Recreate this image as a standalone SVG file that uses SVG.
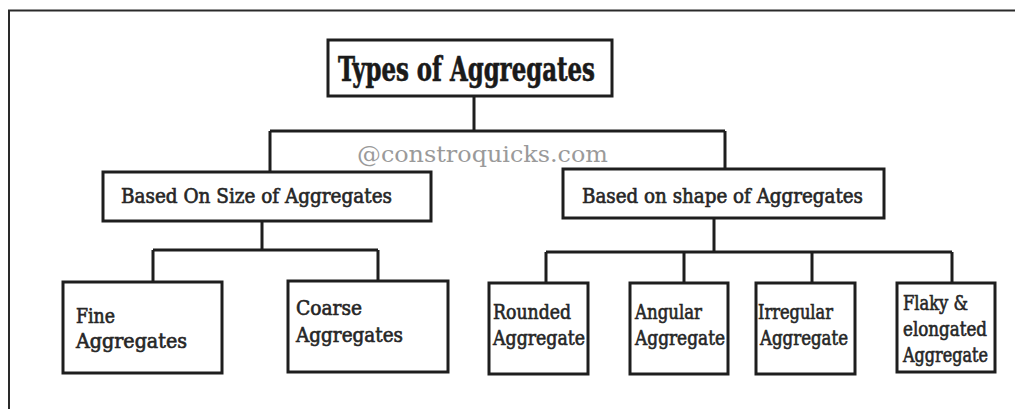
<svg xmlns="http://www.w3.org/2000/svg" width="1015" height="409" viewBox="0 0 1015 409">
<style>
.box{fill:#fff;stroke:#1e1e1e;stroke-width:3}
.ln{fill:none;stroke:#1e1e1e;stroke-width:3}
.t{font-family:"DejaVu Serif Condensed","DejaVu Serif",serif;fill:#262626;stroke:#262626;stroke-width:0.6;font-size:20px}
.title{font-family:"DejaVu Serif Condensed","DejaVu Serif",serif;font-weight:bold;fill:#1a1a1a;stroke:#1a1a1a;stroke-width:0.6;font-size:33px}
.wm{font-family:"DejaVu Serif","Liberation Serif",serif;fill:#9a9a9a;font-size:23px}
</style>
<rect width="1015" height="409" fill="#fff"/>
<path d="M9,409 V10.5 H1015" fill="none" stroke="#2a2a2a" stroke-width="2"/>
<g id="connectors">
<path class="ln" d="M474,96 V131 M270,131 H725 M270,131 V172 M725,131 V169"/>
<path class="ln" d="M262,221 V250 M153,250 H378 M153,250 V282 M378,250 V281"/>
<path class="ln" d="M714,218 V252 M546,252 H952 M546,252 V283 M684,252 V283 M812,252 V283 M952,252 V283"/>
</g>
<text class="wm" x="357" y="162" textLength="251" lengthAdjust="spacingAndGlyphs">@constroquicks.com</text>
<g id="root">
<rect class="box" x="328" y="40" width="284" height="56"/>
<text class="title" x="338" y="81" textLength="257" lengthAdjust="spacingAndGlyphs">Types of Aggregates</text>
</g>
<g id="size">
<rect class="box" x="103" y="172" width="328" height="49"/>
<text class="t" x="121" y="203" textLength="271" lengthAdjust="spacingAndGlyphs">Based On Size of Aggregates</text>
</g>
<g id="shape">
<rect class="box" x="563" y="169" width="321" height="49"/>
<text class="t" x="582" y="203" textLength="281" lengthAdjust="spacingAndGlyphs">Based on shape of Aggregates</text>
</g>
<g id="fine">
<rect class="box" x="63" y="282" width="159" height="91"/>
<text class="t" x="76" y="323" textLength="39" lengthAdjust="spacingAndGlyphs">Fine</text>
<text class="t" x="76" y="348" textLength="111" lengthAdjust="spacingAndGlyphs">Aggregates</text>
</g>
<g id="coarse">
<rect class="box" x="288" y="281" width="160" height="91"/>
<text class="t" x="296" y="315" textLength="66" lengthAdjust="spacingAndGlyphs">Coarse</text>
<text class="t" x="296" y="342" textLength="107" lengthAdjust="spacingAndGlyphs">Aggregates</text>
</g>
<g id="rounded">
<rect class="box" x="489" y="283" width="99" height="91"/>
<text class="t" x="493" y="319" textLength="78" lengthAdjust="spacingAndGlyphs">Rounded</text>
<text class="t" x="493" y="345" textLength="92" lengthAdjust="spacingAndGlyphs">Aggregate</text>
</g>
<g id="angular">
<rect class="box" x="630" y="283" width="98" height="91"/>
<text class="t" x="635" y="319" textLength="67" lengthAdjust="spacingAndGlyphs">Angular</text>
<text class="t" x="635" y="345" textLength="90" lengthAdjust="spacingAndGlyphs">Aggregate</text>
</g>
<g id="irregular">
<rect class="box" x="756" y="283" width="99" height="91"/>
<text class="t" x="758" y="319" textLength="75" lengthAdjust="spacingAndGlyphs">Irregular</text>
<text class="t" x="760" y="345" textLength="88" lengthAdjust="spacingAndGlyphs">Aggregate</text>
</g>
<g id="flaky">
<rect class="box" x="897" y="283" width="98" height="89"/>
<text class="t" x="903" y="310" textLength="65" lengthAdjust="spacingAndGlyphs">Flaky &amp;</text>
<text class="t" x="903" y="336" textLength="84" lengthAdjust="spacingAndGlyphs">elongated</text>
<text class="t" x="903" y="362" textLength="85" lengthAdjust="spacingAndGlyphs">Aggregate</text>
</g>
</svg>
